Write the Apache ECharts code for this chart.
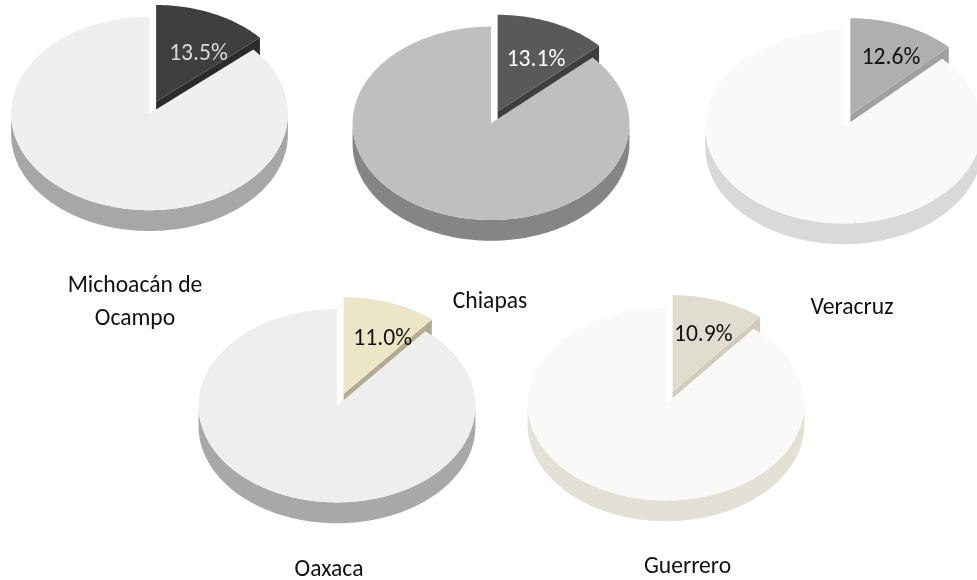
<!DOCTYPE html>
<html>
<head>
<meta charset="utf-8">
<style>html,body{margin:0;padding:0;background:#fff}#c{width:977px;height:580px}</style>
<script src="https://cdn.jsdelivr.net/npm/echarts@6/dist/echarts.min.js"></script>
</head>
<body>
<div id="c"></div>
<script>
// Data
const states = ['Michoacán de\nOcampo', 'Chiapas', 'Veracruz', 'Oaxaca', 'Guerrero'];
const shares = [13.5, 13.1, 12.6, 11.0, 10.9];

// Layout: [cx, cy] of each disc, name-label centre, percent-label centre
const centers = [[149.5,113.5],[491,123.3],[843.7,126.7],[337,405.7],[666,403.7]];
const nameAt  = [[135,303],[490,302],[852,308],[329,570],[687.5,567]];
const pctAt   = [[198.5,54],[536,60],[891,58],[382.7,338.7],[703.3,334.7]];
const RX = 138.4, RY = 96.7, DEPTH = 20.8, SLICE_DEPTH = 17.5, EXPLODE = [6.6, -11.8];

// Styles
const restTop   = ['#efefef','#bfbfbf','#f9f9f9','#eeeeee','#faf9f7'];
const restSide  = ['#a7a7a7','#858585','#d9d9d9','#a8a8a8','#e3e0d5'];
const sliceTop  = ['#3f3f3f','#595959','#afafaf','#ece5c8','#e0ddd0'];
const sliceSide = ['#2b2b2b','#3e3e3e','#a0a0a0','#b2ab92','#d0cbbb'];
const pctColor  = ['#d9d9d9','#ffffff','#111111','#111111','#111111'];

function pt(cx, cy, deg, dy) {
  const a = deg * Math.PI / 180;
  return [cx + RX * Math.sin(a), cy - RY * Math.cos(a) + (dy || 0)];
}
function arc(cx, cy, from, to, dy) {
  const out = [], n = Math.max(2, Math.ceil(Math.abs(to - from)));
  for (let i = 0; i <= n; i++) out.push(pt(cx, cy, from + (to - from) * i / n, dy));
  return out;
}
const FONT = 'Carlito, Lato, sans-serif';

function renderItem(params, api) {
  const i = params.dataIndex;
  const share = api.value(0);
  const sweep = share / 100 * 360;
  const [cx, cy] = centers[i];
  const sx = cx + EXPLODE[0], sy = cy + EXPLODE[1];
  const poly = (points, fill) => ({ type: 'polygon', shape: { points }, style: { fill } });
  const corner = pt(sx, sy, sweep);
  const children = [
    poly([[sx, sy], corner, [corner[0], corner[1] + SLICE_DEPTH], [sx, sy + SLICE_DEPTH]], sliceSide[i]),
    poly([[sx, sy]].concat(arc(sx, sy, 0, sweep)), sliceTop[i]),
    poly(arc(cx, cy, 90, 270).concat(arc(cx, cy, 270, 90, DEPTH)), restSide[i]),
    poly([[cx, cy]].concat(arc(cx, cy, sweep, 360)), restTop[i]),
    { type: 'text', style: { text: share.toFixed(1) + '%', x: pctAt[i][0], y: pctAt[i][1],
        align: 'center', verticalAlign: 'middle', fill: pctColor[i], fontSize: 23.6, fontFamily: FONT } },
    { type: 'text', style: { text: states[i], x: nameAt[i][0], y: nameAt[i][1],
        align: 'center', verticalAlign: 'middle', fill: '#111111', fontSize: 23.6, fontFamily: FONT, lineHeight: 33 } }
  ];
  return { type: 'group', children };
}

const chart = echarts.init(document.getElementById('c'), null, { renderer: 'canvas' });
chart.setOption({
  animation: false,
  backgroundColor: '#ffffff',
  series: [{
    type: 'custom',
    coordinateSystem: 'none',
    silent: true,
    clip: false,
    data: shares.map(v => [v]),
    renderItem
  }]
});
</script>
</body>
</html>
